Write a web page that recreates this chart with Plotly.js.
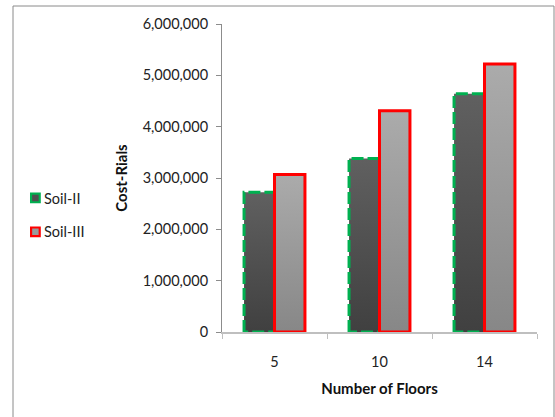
<!DOCTYPE html>
<html>
<head>
<meta charset="utf-8">
<script src="https://cdn.plot.ly/plotly-3.0.1.min.js"></script>
<style>
  html, body { margin: 0; padding: 0; background: #fff; }
  #chart { width: 555px; height: 417px; }
</style>
</head>
<body>
<div id="chart"></div>
<script>
// Construction cost by number of floors, two soil classes
const floors = ['5', '10', '14'];
const soilII = [2720000, 3380000, 4640000];
const soilIII = [3070000, 4310000, 5220000];
const seriesNames = ['Soil-II', 'Soil-III'];

const W = 555, H = 417;
const M = { l: 222, r: 18, t: 24, b: 85, autoexpand: false };
const pw = W - M.l - M.r, ph = H - M.t - M.b;
const px = v => (v - M.l) / pw;          // page x -> paper x
const py = v => (H - M.b - v) / ph;      // page y -> paper y

const FONT = 'Lato, "Open Sans", "Noto Sans", sans-serif';

const traces = [
  {
    type: 'bar', name: seriesNames[0], x: floors, y: soilII,
    legendgroup: 'a',
    marker: { color: '#4f4f4f', line: { color: '#00b050', width: 3 } },
    hoverinfo: 'none'
  },
  {
    type: 'bar', name: seriesNames[1], x: floors, y: soilIII,
    legendgroup: 'b',
    marker: { color: '#9a9a9a', line: { color: '#ff0000', width: 3 } },
    hoverinfo: 'none'
  }
];

const layout = {
  width: W, height: H,
  margin: M,
  paper_bgcolor: '#ffffff', plot_bgcolor: '#ffffff',
  font: { family: FONT, size: 14, color: '#222' },
  barmode: 'group', bargap: 0.42, bargroupgap: 0,
  showlegend: true,
  legend: {
    x: px(4), y: py(182), xanchor: 'left', yanchor: 'top',
    font: { family: FONT, size: 14.5, color: '#222' },
    tracegroupgap: 12, itemwidth: 30,
    bgcolor: 'rgba(0,0,0,0)'
  },
  xaxis: {
    type: 'category',
    showline: true, linecolor: '#bfbfbf', linewidth: 1.5,
    ticks: 'outside', tickson: 'boundaries', ticklen: 5, tickcolor: '#bfbfbf',
    ticklabelstandoff: 16,
    tickfont: { family: FONT, size: 14.5, color: '#222' },
    showgrid: false, zeroline: false,
    title: { text: 'Number of Floors', font: { family: FONT, size: 15, color: '#111', weight: 'bold' }, standoff: 14 }
  },
  yaxis: {
    range: [0, 6000000], dtick: 1000000, tick0: 0, tickformat: ',d',
    showline: true, linecolor: '#8c8c8c', linewidth: 1,
    ticks: 'outside', ticklen: 5, tickcolor: '#8c8c8c',
    ticklabelstandoff: 5,
    tickfont: { family: FONT, size: 14.5, color: '#222' },
    showgrid: false, zeroline: false,
    title: { text: 'Cost-Rials', font: { family: FONT, size: 15, color: '#111', weight: 'bold' }, standoff: 11 }
  },
  shapes: [{
    type: 'rect', xref: 'paper', yref: 'paper', layer: 'below',
    x0: px(13), x1: px(554), y0: py(420), y1: py(6),
    line: { color: '#8a8a8a', width: 1 }, fillcolor: 'rgba(0,0,0,0)'
  }]
};

// Vertical gradient fills, a dashed outline for the first series,
// and compact legend swatches sitting close to their labels
function styleBars(gd) {
  const svg = gd.querySelector('svg.main-svg');
  const ns = 'http://www.w3.org/2000/svg';
  let defs = svg.querySelector('defs');
  if (!defs) { defs = document.createElementNS(ns, 'defs'); svg.insertBefore(defs, svg.firstChild); }
  const grads = [
    { id: 'gradSoilII', top: '#606060', bottom: '#404040' },
    { id: 'gradSoilIII', top: '#ababab', bottom: '#878787' }
  ];
  grads.forEach(g => {
    if (document.getElementById(g.id)) return;
    const lg = document.createElementNS(ns, 'linearGradient');
    lg.setAttribute('id', g.id);
    lg.setAttribute('x1', '0'); lg.setAttribute('y1', '0');
    lg.setAttribute('x2', '0'); lg.setAttribute('y2', '1');
    [[0, g.top], [1, g.bottom]].forEach(([o, c]) => {
      const s = document.createElementNS(ns, 'stop');
      s.setAttribute('offset', o); s.setAttribute('stop-color', c);
      lg.appendChild(s);
    });
    defs.appendChild(lg);
  });
  gd.querySelectorAll('.barlayer .trace').forEach((tr, i) => {
    tr.querySelectorAll('.point path').forEach(p => {
      p.style.fill = 'url(#' + grads[i].id + ')';
      if (i === 0) p.style.strokeDasharray = '12,4';
    });
  });
  gd.querySelectorAll('.legend .traces .legendpoints').forEach(g => {
    g.setAttribute('transform', 'translate(17,0) scale(0.72)');
  });
}

Plotly.newPlot('chart', traces, layout, { staticPlot: true }).then(styleBars);
</script>
</body>
</html>
